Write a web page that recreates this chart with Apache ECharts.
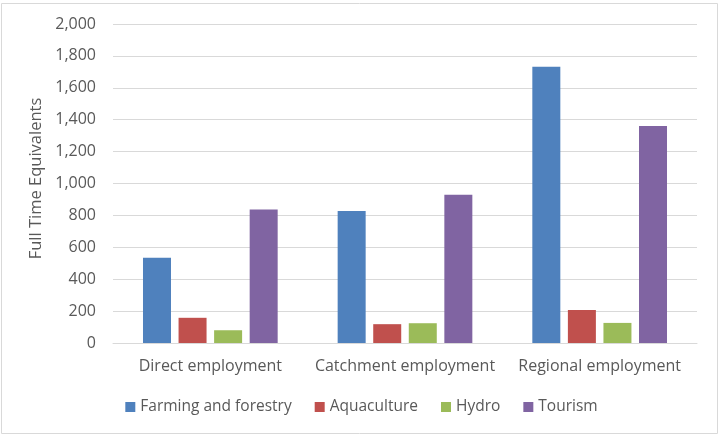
<!DOCTYPE html>
<html>
<head>
<meta charset="utf-8">
<script src="https://cdn.jsdelivr.net/npm/echarts@6/dist/echarts.min.js"></script>
<style>
  html, body { margin: 0; padding: 0; background: #fff; }
  #chart { width: 723px; height: 442px; }
</style>
</head>
<body>
<div id="chart"></div>
<script>
// categories and values
const categories = ['Direct employment', 'Catchment employment', 'Regional employment']
const farming = [535, 828, 1732]
const aquaculture = [158, 118, 207]
const hydro = [80, 124, 126]
const tourism = [837, 929, 1360]
const yTicks = [0, 2000, 200]

const chart = echarts.init(document.getElementById('chart'))
const font = 'Open Sans'

const bar = (name, data, color) => ({
  name: name,
  type: 'bar',
  data: data,
  barWidth: 28,
  barGap: '27%',
  itemStyle: { color: color }
})

chart.setOption({
  animation: false,
  textStyle: { fontFamily: font },
  // outer frame like the office chart area
  graphic: [{
    type: 'rect',
    shape: { x: 1.5, y: 3.5, width: 716, height: 430 },
    style: { fill: 'none', stroke: '#d9d9d9', lineWidth: 1 }
  }],
  grid: { left: 113, right: 26, top: 24, bottom: 99 },
  legend: {
    top: 394,
    left: 'center',
    itemWidth: 10,
    itemHeight: 10,
    itemGap: 23,
    icon: 'rect',
    textStyle: { fontFamily: font, fontSize: 15.5, color: '#595959' }
  },
  xAxis: {
    type: 'category',
    data: categories,
    axisTick: { show: false },
    axisLine: { lineStyle: { color: '#d9d9d9' } },
    axisLabel: { interval: 0, fontFamily: font, fontSize: 16, color: '#595959', margin: 15 }
  },
  yAxis: {
    type: 'value',
    min: yTicks[0],
    max: yTicks[1],
    interval: yTicks[2],
    name: 'Full Time Equivalents',
    nameLocation: 'middle',
    nameGap: 64,
    nameTextStyle: { fontFamily: font, fontSize: 16.5, color: '#595959', padding: [0, 0, 0, 10] },
    axisLine: { show: false },
    axisTick: { show: false },
    splitLine: { lineStyle: { color: '#d9d9d9' } },
    axisLabel: {
      fontFamily: font,
      fontSize: 16,
      color: '#595959',
      margin: 17,
      formatter: (v) => v.toLocaleString('en-US')
    }
  },
  series: [
    bar('Farming and forestry', farming, '#4f81bd'),
    bar('Aquaculture', aquaculture, '#c0504d'),
    bar('Hydro', hydro, '#9bbb59'),
    bar('Tourism', tourism, '#8064a2')
  ]
})
</script>
</body>
</html>
